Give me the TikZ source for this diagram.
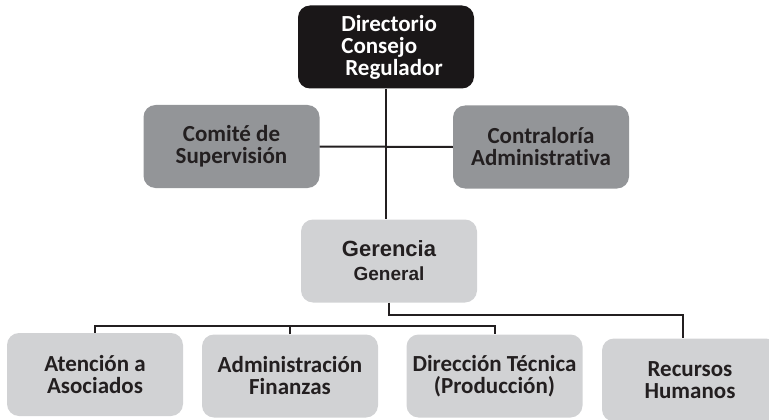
\documentclass[tikz,border=0pt]{standalone}
\usepackage{fontspec}
\setmainfont{Carlito}[Ligatures=NoCommon]
\newfontfamily\arialfont{Liberation Sans}
\usepackage{tikz}

\definecolor{ink}{HTML}{231F20}
\definecolor{boxdark}{HTML}{1A1718}
\definecolor{boxmid}{HTML}{939598}
\definecolor{boxlight}{HTML}{D1D2D4}

\begin{document}
\begin{tikzpicture}[x=1pt, y=-1pt,
    unit/.style={rounded corners=12pt, minimum width=176pt, minimum height=83pt,
      inner sep=0pt, align=center, text=ink,
      font=\bfseries\fontsize{23}{22}\selectfont},
    topunit/.style={unit, fill=boxdark, text=white, align=left},
    staffunit/.style={unit, fill=boxmid},
    lineunit/.style={unit, fill=boxlight},
    link/.style={draw=ink, line width=2pt}]
    \useasboundingbox (0,0) rectangle (769,420);

    % board
    \node[topunit] (dir) at (386,47)
      {\hspace*{12pt}Directorio\\\hspace*{12pt}Consejo\\\hspace*{16pt}Regulador};

    % staff units
    \node[staffunit] (com) at (231.5,146.5) {Comit\'e de\\Supervisi\'on};
    \node[staffunit] (con) at (541,147) {Contralor\'ia\\Administrativa};

    % management
    \node[lineunit, font=\arialfont\bfseries\fontsize{19}{24}\selectfont] (ger) at (389,261)
      {{\fontsize{22}{24}\selectfont Gerencia}\\General};

    % departments
    \node[lineunit] (aten) at (95,374.5) {Atenci\'on a\\Asociados};
    \node[lineunit] (adm) at (290,376) {Administraci\'on\\Finanzas};
    \node[lineunit] (dtec) at (494.5,376) {Direcci\'on T\'ecnica\\(Producci\'on)};
    \node[lineunit] (rrhh) at (690,380) {Recursos\\Humanos};

    \coordinate (bar) at (0,326);
    \coordinate (tap) at (683,315);

    \draw[link] (dir.south) -- (dir.south |- ger.north);
    \draw[link] (com.east) -- (con.west);
    \draw[link] (ger.south) |- (tap) -- (tap |- rrhh.north);
    \draw[link] (aten.north) -- (aten.north |- bar) -- (dtec.north |- bar) -- (dtec.north);
    \draw[link] (adm.north) -- (adm.north |- bar);
\end{tikzpicture}
\end{document}
